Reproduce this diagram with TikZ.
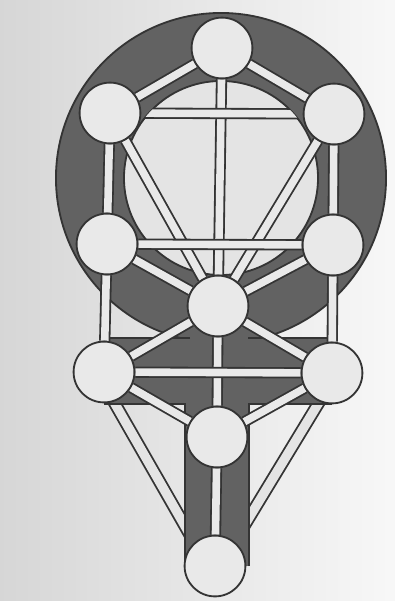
\documentclass[tikz,border=0pt]{standalone}
\usetikzlibrary{positioning}
\pgfdeclarelayer{backdrop}
\pgfdeclarelayer{channels}
\pgfsetlayers{backdrop,channels,main}
\definecolor{ink}{RGB}{52,52,52}
\definecolor{slate}{RGB}{98,98,98}
\definecolor{paper}{RGB}{228,228,228}
\definecolor{pearl}{RGB}{233,233,233}

\tikzset{
    sephira/.style={circle, draw=ink, line width=1.3pt, fill=pearl,
        minimum size=1.52cm, inner sep=0pt},
    channel/.style={draw=ink, line width=1.3pt, double=pearl, double distance=5.4pt},
    widechannel/.style={channel, double=paper, double distance=6.6pt},
    outline/.style={draw=ink, line width=1.3pt}
}

\begin{document}
\begin{tikzpicture}[x=0.025cm, y=-0.025cm]

    \useasboundingbox (0,0) rectangle (395,601);

    % Sephirot
    \node[sephira] (kether)    at (222,48)  {};
    \node[sephira] (binah)     at (110,113) {};
    \node[sephira] (chokmah)   at (334,114) {};
    \node[sephira] (geburah)   at (107,244) {};
    \node[sephira] (chesed)    at (333,245) {};
    \node[sephira] (tiphareth) at (218,306) {};
    \node[sephira] (hod)       at (104,372) {};
    \node[sephira] (netzach)   at (332,373) {};
    \node[sephira] (yesod)     at (217,437) {};
    \node[sephira] (malkuth)   at (215,566) {};
    \coordinate (ringc) at (221,178);

    % Paper, ring and cross
    \begin{pgfonlayer}{backdrop}
        \shade[left color=black!16, right color=black!3] (0,0) rectangle (395,601);
        \fill[paper] (ringc) circle[radius=2.425cm];
        \fill[slate, even odd rule] (ringc) circle[radius=4.125cm] (ringc) circle[radius=2.425cm];
        \draw[outline] (ringc) circle[radius=4.125cm] (ringc) circle[radius=2.425cm];

        % long outer paths lie under the cross
        \draw[widechannel] ([xshift=-0.18cm]hod.center) -- ([xshift=-0.18cm]malkuth.center);
        \draw[widechannel] ([xshift=0.12cm]netzach.center) -- ([xshift=0.12cm]malkuth.center);

        \fill[slate] (104,338) rectangle (332,404);
        \fill[slate] (185,338) rectangle (249,566);
        \draw[outline] (190,338) -- (104,338) (104,404) -- (185,404) -- (185,566)
            (249,566) -- (249,404) -- (332,404) (332,338) -- (248,338);
    \end{pgfonlayer}

    % Paths
    \begin{pgfonlayer}{channels}
        % vertical
        \foreach \a/\b in {kether/tiphareth, tiphareth/yesod, yesod/malkuth,
                binah/geburah, geburah/hod, chokmah/chesed, chesed/netzach} {
            \draw[channel] (\a) -- (\b);
        }
        % diagonal
        \foreach \a/\b in {kether/binah, kether/chokmah, binah/tiphareth,
                chokmah/tiphareth, geburah/tiphareth, chesed/tiphareth,
                tiphareth/hod, tiphareth/netzach, hod/yesod, netzach/yesod} {
            \draw[channel] (\a) -- (\b);
        }
        % horizontal
        \begin{scope}
            \clip (ringc) circle[radius=2.425cm];
            \draw[channel] (binah) -- (chokmah);
        \end{scope}
        \draw[channel] (geburah) -- (chesed);
        \draw[channel] (hod) -- (netzach);
    \end{pgfonlayer}

\end{tikzpicture}
\end{document}
